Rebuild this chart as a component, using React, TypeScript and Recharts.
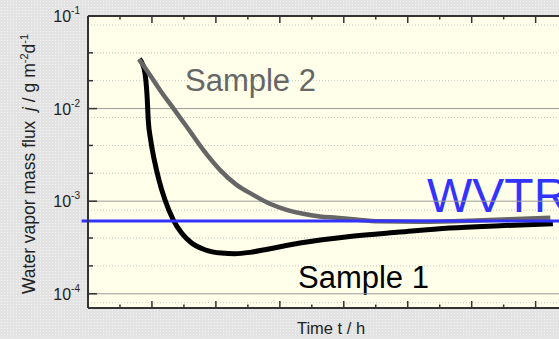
import React from 'react';
import { ComposedChart, Line, XAxis, YAxis, CartesianGrid, ReferenceLine, Label } from 'recharts';

// Sample 1: drops fast, minimum, then slowly recovers towards WVTR
const sample1Time = [8.05, 8.52, 8.91, 9.14, 9.27, 9.42, 9.8, 10.36, 11.09, 12.03, 13.33, 14.64, 16.2, 18.28, 20.89, 22.97, 25.31, 27.66, 33.13, 40.94, 48.75, 56.56, 64.38, 72.7];
const sample1Flux = [0.0344, 0.0303, 0.0241, 0.01715, 0.01242, 0.00755, 0.00459, 0.0028, 0.0017, 0.001035, 0.00063, 0.000453, 0.000353, 0.000299, 0.000275, 0.000271, 0.00028, 0.000299, 0.000353, 0.000416, 0.000464, 0.000513, 0.000543, 0.00057];

// Sample 2: slow decay down to WVTR level
const sample2Time = [7.97, 9.69, 11.25, 13.33, 15.42, 18.02, 20.63, 23.23, 25.83, 28.44, 31.05, 33.64, 36.25, 38.86, 41.45, 45.6, 51.9, 59.7, 65.9, 72.3];
const sample2Flux = [0.0341, 0.0231, 0.0159, 0.0101, 0.0064, 0.00358, 0.00218, 0.0015, 0.00117, 0.000937, 0.000807, 0.000731, 0.000684, 0.000662, 0.000638, 0.000607, 0.0006, 0.000615, 0.000638, 0.000662];

const wvtr = 0.00061;

const decadeTicks = [1e-4, 1e-3, 1e-2, 1e-1];
const decadeExponents = ['-4', '-3', '-2', '-1'];
const minorTicks = [8e-5, 2e-4, 4e-4, 6e-4, 8e-4, 2e-3, 4e-3, 6e-3, 8e-3, 2e-2, 4e-2, 6e-2, 8e-2];
const timeTicks = [0, 5, 10, 15, 20, 25, 30, 35, 40, 45, 50, 55, 60, 65, 70, 75];

const sample1 = sample1Time.map((t, i) => ({ t, flux: sample1Flux[i] }));
const sample2 = sample2Time.map((t, i) => ({ t, flux: sample2Flux[i] }));
const yTicks = [...decadeTicks, ...minorTicks].sort((a, b) => a - b);

const FONT = '"Liberation Sans", Arial, sans-serif';
const AXIS = '#333';

const YTick = ({ x, y, payload }: any) => {
  const idx = decadeTicks.findIndex((d) => Math.abs(d - payload.value) / d < 1e-6);
  const major = idx >= 0;
  return (
    <g>
      <line x1={x} x2={x + (major ? 9 : 5)} y1={y} y2={y} stroke={AXIS} strokeWidth={1.5} />
      {major && (
        <text x={x - 8} y={y + 6} textAnchor="end" fontSize={16} fill="#222" fontFamily={FONT}>
          10
          <tspan dy={-8} fontSize={10}>{decadeExponents[idx]}</tspan>
        </text>
      )}
    </g>
  );
};

const XTick = ({ x, y, payload, top }: any) => {
  const len = payload.value % 10 === 0 ? 7 : 3.5;
  return <line x1={x} x2={x} y1={y} y2={top ? y + len : y - len} stroke={AXIS} strokeWidth={1.5} />;
};

const YLabel = ({ viewBox }: any) => {
  const cx = 35;
  const cy = viewBox.y + viewBox.height / 2 + 2;
  return (
    <text
      x={cx}
      y={cy}
      transform={`rotate(-90 ${cx} ${cy})`}
      textAnchor="middle"
      fontSize={17.5}
      fill="#222"
      fontFamily={FONT}
    >
      Water vapor mass flux{'\u00a0\u00a0'}
      <tspan fontStyle="italic">j</tspan> / g m
      <tspan dy={-7} fontSize={11}>-2</tspan>
      <tspan dy={7}>d</tspan>
      <tspan dy={-7} fontSize={11}>-1</tspan>
    </text>
  );
};

const XLabel = ({ viewBox }: any) => (
  <text
    x={viewBox.x + viewBox.width / 2}
    y={viewBox.y + 26}
    textAnchor="middle"
    fontSize={16.5}
    fill="#222"
    fontFamily={FONT}
  >
    Time t / h
  </text>
);

export default function App() {
  return (
    <div
      style={{
        position: 'fixed',
        left: 0,
        top: 0,
        width: 559,
        height: 339,
        overflow: 'hidden',
        backgroundColor: '#e3e3e3',
        backgroundImage: 'radial-gradient(circle, #f3f3f3 0.8px, transparent 0.9px)',
        backgroundSize: '3px 3px',
      }}
    >
      <ComposedChart width={580} height={339} margin={{ top: 0, right: 6, bottom: 0, left: 0 }}>
        <CartesianGrid
          vertical={false}
          horizontalValues={minorTicks}
          yAxisId="flux"
          xAxisId="bottom"
          stroke="#c4c4c4"
          strokeDasharray="1 2"
          fill="#ffffea"
          fillOpacity={1}
        />
        <XAxis
          xAxisId="bottom"
          dataKey="t"
          type="number"
          domain={[0, 76]}
          ticks={timeTicks}
          height={31}
          tickSize={0}
          tickMargin={0}
          tickLine={false}
          axisLine={{ stroke: AXIS, strokeWidth: 2 }}
          tick={<XTick />}
          allowDataOverflow
        >
          <Label content={<XLabel />} />
        </XAxis>
        <XAxis
          xAxisId="top"
          orientation="top"
          dataKey="t"
          type="number"
          domain={[0, 76]}
          ticks={timeTicks}
          height={16}
          tickSize={0}
          tickMargin={0}
          tickLine={false}
          axisLine={{ stroke: AXIS, strokeWidth: 2 }}
          tick={<XTick top />}
          allowDataOverflow
        />
        <YAxis
          yAxisId="flux"
          type="number"
          scale="log"
          domain={[7.02e-5, 0.1]}
          ticks={yTicks}
          width={88}
          tickSize={0}
          tickMargin={0}
          tickLine={false}
          axisLine={{ stroke: AXIS, strokeWidth: 2 }}
          tick={<YTick />}
          allowDataOverflow
        >
          <Label content={<YLabel />} />
        </YAxis>
        {decadeTicks.map((v) => (
          <ReferenceLine key={v} y={v} xAxisId="bottom" yAxisId="flux" stroke="#9a9a9a" strokeWidth={1} />
        ))}
        <Line
          data={sample1}
          dataKey="flux"
          xAxisId="bottom"
          yAxisId="flux"
          type="monotone"
          stroke="#000"
          strokeWidth={5}
          dot={false}
          isAnimationActive={false}
        />
        <Line
          data={sample2}
          dataKey="flux"
          xAxisId="bottom"
          yAxisId="flux"
          type="monotone"
          stroke="#666"
          strokeWidth={4.5}
          dot={false}
          isAnimationActive={false}
        />
        <ReferenceLine
          xAxisId="bottom"
          yAxisId="flux"
          segment={[{ x: -1, y: wvtr }, { x: 76, y: wvtr }]}
          ifOverflow="visible"
          stroke="#3333ff"
          strokeWidth={3}
        />
        <text x={185} y={91} fontSize={31} fill="#666" fontFamily={FONT}>Sample 2</text>
        <text x={298} y={288} fontSize={31} fill="#000" fontFamily={FONT}>Sample 1</text>
        <text x={427} y={212} fontSize={48} fill="#3333ff" fontFamily={FONT}>WVTR</text>
      </ComposedChart>
    </div>
  );
}
